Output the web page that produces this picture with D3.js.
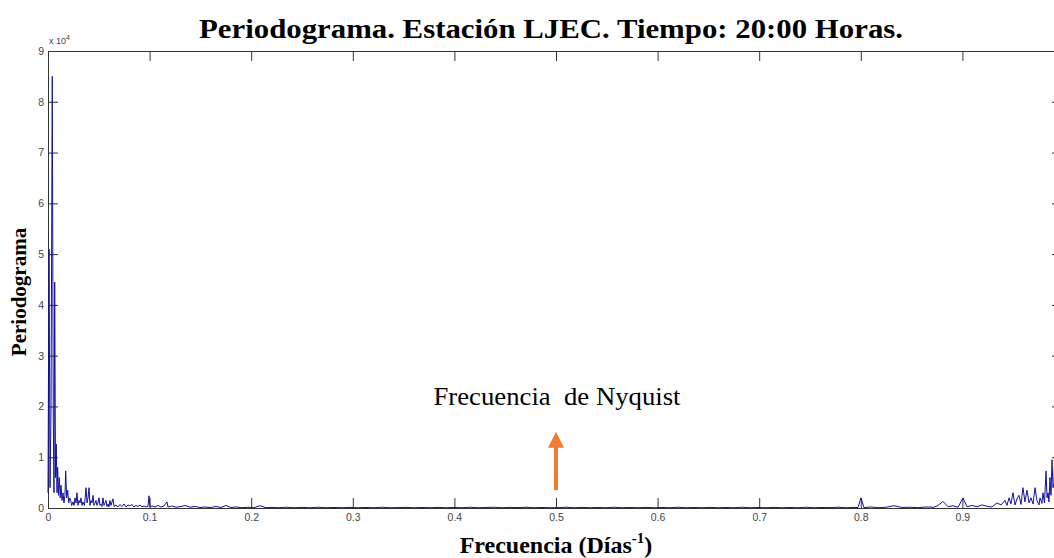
<!DOCTYPE html>
<html>
<head>
<meta charset="utf-8">
<script src="https://cdn.jsdelivr.net/npm/d3@7/dist/d3.min.js"></script>
<style>
  html, body { margin: 0; padding: 0; background: #fff; }
  svg { display: block; }
</style>
</head>
<body>
<svg id="chart" width="1054" height="558"></svg>
<script>
// ---------- data ----------
const titleText = "Periodograma. Estación LJEC. Tiempo: 20:00 Horas.";
const yLabelText = "Periodograma";
const annotationText = "Frecuencia  de Nyquist";
const nyquistFreq = 0.5;
const arrowTop = 15000, arrowBottom = 3500;   // arrow span in data units

const xTicks = [0, 0.1, 0.2, 0.3, 0.4, 0.5, 0.6, 0.7, 0.8, 0.9];
const xTickLabels = ["0", "0.1", "0.2", "0.3", "0.4", "0.5", "0.6", "0.7", "0.8", "0.9"];
const yTicks = [0, 10000, 20000, 30000, 40000, 50000, 60000, 70000, 80000, 90000];
const yTickLabels = ["0", "1", "2", "3", "4", "5", "6", "7", "8", "9"];

const freq = [
  0.0000, 0.0010, 0.0020, 0.0030, 0.0042, 0.0052, 0.0059, 0.0066, 0.0074, 0.0081,
  0.0089, 0.0095, 0.0103, 0.0111, 0.0120, 0.0128, 0.0138, 0.0148, 0.0157, 0.0167,
  0.0174, 0.0184, 0.0194, 0.0204, 0.0214, 0.0223, 0.0233, 0.0246, 0.0256, 0.0266,
  0.0276, 0.0285, 0.0295, 0.0305, 0.0315, 0.0325, 0.0335, 0.0344, 0.0359, 0.0374,
  0.0384, 0.0394, 0.0404, 0.0413, 0.0423, 0.0433, 0.0443, 0.0453, 0.0463, 0.0472,
  0.0482, 0.0492, 0.0502, 0.0512, 0.0522, 0.0531, 0.0541, 0.0551, 0.0561, 0.0571,
  0.0581, 0.0591, 0.0600, 0.0610, 0.0620, 0.0630, 0.0640, 0.0650, 0.0669, 0.0689,
  0.0709, 0.0728, 0.0748, 0.0768, 0.0787, 0.0807, 0.0827, 0.0846, 0.0866, 0.0886,
  0.0906, 0.0925, 0.0945, 0.0965, 0.0984, 0.0994, 0.1004, 0.1024, 0.1053, 0.1083,
  0.1112, 0.1142, 0.1171, 0.1181, 0.1220, 0.1260, 0.1299, 0.1348, 0.1398, 0.1447,
  0.1496, 0.1545, 0.1594, 0.1654, 0.1703, 0.1752, 0.1801, 0.1850, 0.1909, 0.1968,
  0.2028, 0.2087, 0.2146, 0.2205, 0.2264, 0.2343, 0.2421, 0.2500, 0.2579, 0.2657,
  0.2736, 0.2815, 0.2894, 0.2972, 0.3051, 0.3130, 0.3209, 0.3287, 0.3366, 0.3445,
  0.3524, 0.3602, 0.3681, 0.3760, 0.3839, 0.3917, 0.3996, 0.4075, 0.4154, 0.4232,
  0.4311, 0.4390, 0.4469, 0.4547, 0.4626, 0.4705, 0.4783, 0.4862, 0.4941, 0.5020,
  0.5098, 0.5177, 0.5256, 0.5335, 0.5413, 0.5492, 0.5571, 0.5650, 0.5728, 0.5807,
  0.5886, 0.5965, 0.6043, 0.6122, 0.6201, 0.6280, 0.6358, 0.6437, 0.6516, 0.6594,
  0.6673, 0.6752, 0.6831, 0.6909, 0.6988, 0.7067, 0.7146, 0.7224, 0.7303, 0.7382,
  0.7461, 0.7539, 0.7618, 0.7697, 0.7776, 0.7854, 0.7933, 0.7972, 0.8002, 0.8031,
  0.8100, 0.8169, 0.8248, 0.8327, 0.8406, 0.8484, 0.8563, 0.8642, 0.8720, 0.8760,
  0.8809, 0.8858, 0.8907, 0.8957, 0.9006, 0.9045, 0.9094, 0.9144, 0.9193, 0.9242,
  0.9291, 0.9341, 0.9380, 0.9419, 0.9439, 0.9459, 0.9478, 0.9498, 0.9518, 0.9537,
  0.9557, 0.9577, 0.9596, 0.9616, 0.9636, 0.9656, 0.9675, 0.9695, 0.9715, 0.9734,
  0.9754, 0.9764, 0.9783, 0.9793, 0.9808, 0.9823, 0.9833, 0.9843, 0.9852, 0.9862,
  0.9872, 0.9882, 0.9892, 0.9902, 0.9911, 0.9921
];
const power = [
  3000, 51000, 4000, 20000, 85000, 17500, 3000, 44500, 6000, 12600,
  3000, 8000, 2500, 6000, 2000, 4500, 1500, 3000, 1000, 2500,
  7300, 2000, 3500, 1000, 2000, 1500, 500, 1200, 500, 2000,
  1000, 3000, 500, 1500, 1000, 2000, 500, 1200, 500, 4000,
  1000, 2000, 4000, 500, 1500, 1000, 2500, 500, 1000, 1500,
  500, 1000, 2000, 500, 800, 300, 2000, 500, 1000, 1500,
  300, 800, 200, 1500, 500, 1200, 1800, 300, 600, 200,
  700, 300, 800, 200, 600, 400, 700, 200, 500, 300,
  600, 200, 400, 200, 300, 2400, 200, 400, 200, 500,
  200, 400, 1200, 200, 400, 150, 250, 500, 150, 300,
  100, 200, 80, 300, 100, 500, 100, 200, 60, 150,
  60, 450, 60, 120, 50, 150, 50, 120, 50, 150,
  50, 100, 50, 120, 50, 100, 50, 150, 50, 80,
  120, 50, 100, 50, 120, 50, 100, 50, 150, 50,
  100, 150, 50, 120, 80, 150, 50, 100, 50, 80,
  150, 50, 120, 50, 100, 50, 150, 50, 100, 50,
  120, 50, 100, 50, 150, 50, 100, 50, 120, 50,
  100, 50, 150, 50, 100, 50, 120, 50, 100, 50,
  150, 50, 100, 80, 150, 50, 120, 80, 2000, 80,
  200, 60, 150, 450, 100, 150, 60, 200, 150, 500,
  1300, 250, 450, 150, 2000, 250, 500, 250, 600, 350,
  200, 1000, 600, 1500, 500, 2000, 800, 3000, 600, 1800,
  2500, 700, 4000, 1200, 3500, 1000, 2000, 800, 4000, 1500,
  600, 2000, 900, 3000, 1000, 7300, 2000, 3000, 1200, 6000,
  2500, 9500, 4000, 5000, 12600, 3000
];

// ---------- layout ----------
const W = 1054, H = 558;
const plot = { left: 48, right: 1064, top: 51, bottom: 508 };
const svg = d3.select("#chart");
svg.append("rect").attr("width", W).attr("height", H).attr("fill", "#fff");

const x = d3.scaleLinear().domain([0, 1]).range([plot.left, plot.right]);
const y = d3.scaleLinear().domain([0, 90000]).range([plot.bottom, plot.top]);

const tickFont = "'Liberation Sans', Arial, sans-serif";
const serif = "'Liberation Serif', 'Times New Roman', serif";
function styleAxis(g, showText) {
  g.selectAll(".domain").attr("stroke", "#333").attr("stroke-width", 1);
  g.selectAll(".tick line").attr("stroke", "#333");
  g.selectAll(".tick text").attr("fill", "#444").attr("font-size", 10.5)
    .attr("font-family", tickFont);
  if (!showText) g.selectAll(".tick text").remove();
}

const xFmt = d => xTickLabels[xTicks.indexOf(d)];
const yFmt = d => yTickLabels[yTicks.indexOf(d)];

svg.append("g").attr("transform", `translate(0,${plot.bottom})`)
  .call(d3.axisBottom(x).tickValues(xTicks).tickFormat(xFmt).tickSizeInner(-10).tickSizeOuter(0).tickPadding(6))
  .call(g => styleAxis(g, true));
svg.append("g").attr("transform", `translate(0,${plot.top})`)
  .call(d3.axisTop(x).tickValues(xTicks).tickSizeInner(-10).tickSizeOuter(0))
  .call(g => styleAxis(g, false));
svg.append("g").attr("transform", `translate(${plot.left},0)`)
  .call(d3.axisLeft(y).tickValues(yTicks).tickFormat(yFmt).tickSizeInner(-10).tickSizeOuter(0).tickPadding(4))
  .call(g => styleAxis(g, true));
svg.append("g").attr("transform", `translate(${plot.right - 2},0)`)
  .call(d3.axisRight(y).tickValues(yTicks).tickSizeInner(-10).tickSizeOuter(0))
  .call(g => styleAxis(g, false));

// exponent label
const expText = svg.append("text").attr("x", plot.left + 1).attr("y", plot.top - 7)
  .attr("font-family", tickFont).attr("font-size", 9).attr("fill", "#444");
expText.append("tspan").text("x 10");
expText.append("tspan").attr("dy", -4).attr("font-size", 7).text("4");

// data line
const pts = freq.map((f, i) => [f, power[i]]);
svg.append("path").datum(pts)
  .attr("fill", "none").attr("stroke", "#12129e").attr("stroke-width", 1)
  .attr("stroke-linejoin", "round")
  .attr("d", d3.line().x(d => x(d[0])).y(d => y(d[1])));

// title
svg.append("text").attr("x", 551).attr("y", 38).attr("text-anchor", "middle")
  .attr("font-family", serif)
  .attr("font-weight", "bold").attr("font-size", 27)
  .attr("textLength", 704).attr("lengthAdjust", "spacingAndGlyphs")
  .attr("fill", "#000").text(titleText);

// y label
svg.append("text").attr("transform", "translate(26,292) rotate(-90)")
  .attr("text-anchor", "middle")
  .attr("font-family", serif)
  .attr("font-weight", "bold").attr("font-size", 21).attr("fill", "#000")
  .text(yLabelText);

// x label
const xl = svg.append("text").attr("x", 556).attr("y", 553).attr("text-anchor", "middle")
  .attr("font-family", serif)
  .attr("font-weight", "bold").attr("font-size", 24).attr("fill", "#000");
xl.append("tspan").text("Frecuencia (Días");
xl.append("tspan").attr("dy", -10).attr("font-size", 15).text("-1");
xl.append("tspan").attr("dy", 10).text(")");

// annotation
svg.append("text").attr("x", x(nyquistFreq) + 1).attr("y", 405).attr("text-anchor", "middle")
  .attr("font-family", serif)
  .attr("font-size", 25).attr("fill", "#000")
  .style("white-space", "pre")
  .attr("textLength", 247).attr("lengthAdjust", "spacingAndGlyphs")
  .text(annotationText);

// arrow
const ax = x(nyquistFreq), ayTop = y(arrowTop), ayBot = y(arrowBottom);
const arrowColor = "#ED7D31";
svg.append("line").attr("x1", ax).attr("x2", ax).attr("y1", ayBot).attr("y2", ayTop + 14)
  .attr("stroke", arrowColor).attr("stroke-width", 4);
svg.append("path")
  .attr("d", `M${ax},${ayTop} L${ax - 8},${ayTop + 16} L${ax + 8},${ayTop + 16} Z`)
  .attr("fill", arrowColor);
</script>
</body>
</html>
